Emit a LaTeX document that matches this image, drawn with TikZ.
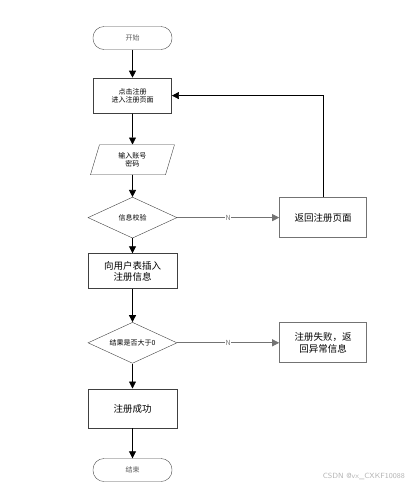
\documentclass[tikz,border=0pt]{standalone}
\usepackage{fontspec}
\newfontfamily\cjk{Noto Sans CJK SC}
\usetikzlibrary{positioning, shapes.geometric, arrows.meta}

\begin{document}
\begin{tikzpicture}[
        x=1pt, y=-1pt,
        node distance=20pt,
        every node/.style={font=\cjk\fontsize{7}{8.5}\selectfont, inner sep=0pt, align=center},
        term/.style={draw=black!70, rounded corners=11pt, minimum width=79pt, minimum height=23pt, text=black!65},
        proc/.style={draw=black!75, thick, minimum width=78pt, minimum height=35pt},
        bigproc/.style={proc, minimum width=89pt, font=\cjk\fontsize{9.5}{11.5}\selectfont},
        io/.style={draw=black!75, trapezium, trapezium left angle=59, trapezium right angle=121, inner xsep=16pt, minimum height=30pt, trapezium stretches body=true, minimum width=84pt},
        decision/.style={draw=black!75, diamond, aspect=2.2, minimum width=89pt, minimum height=41pt},
        errbox/.style={draw=black!55, thick, minimum width=87pt, minimum height=40pt, font=\cjk\fontsize{9.5}{11.5}\selectfont},
        arr/.style={-{Triangle[length=7pt, width=7pt]}, thick, black},
        noarr/.style={arr, black!55, thick}
    ]
        \useasboundingbox (0,0) rectangle (408,488);

        % Main flow
        \node[term] (start) at (132.5,38) {开始};
        \node[proc, below=28pt of start] (click) {点击注册\\进入注册页面};
        \node[io, below=31pt of click] (input) {输入账号\\密码};
        \node[decision, below=22pt of input] (check) {信息校验};
        \node[bigproc, below=15pt of check] (insert) {向用户表插入\\注册信息};
        \node[decision, below=33pt of insert] (result) {结果是否大于0};
        \node[bigproc, minimum height=39pt, below=25pt of result] (ok) {注册成功};
        \node[term, below=30pt of ok] (stop) {结束};

        % Right side
        \node[errbox, right=102pt of check] (back) {返回注册页面};
        \node[errbox, right=102pt of result] (fail) {注册失败，返\\回异常信息};

        % Arrows
        \draw[arr] (start) -- (click);
        \draw[arr] (click) -- (input);
        \draw[arr] (input) -- (check);
        \draw[arr] (check) -- (insert);
        \draw[arr] (insert) -- (result);
        \draw[arr] (result) -- (ok);
        \draw[arr] (ok) -- (stop);

        % N branches
        \draw[noarr] (check) -- node[fill=white, inner sep=0.5pt] {N} (back);
        \draw[noarr] (result) -- node[fill=white, inner sep=0.5pt] {N} (fail);
        \draw[arr, semithick] (back.north) |- (click.east);

        \node[text=black!30, font=\sffamily\fontsize{7.5}{9}\selectfont, anchor=east] (wm) at (405,476) {CSDN @vx\_CXKF10088};
    \end{tikzpicture}
\end{document}
